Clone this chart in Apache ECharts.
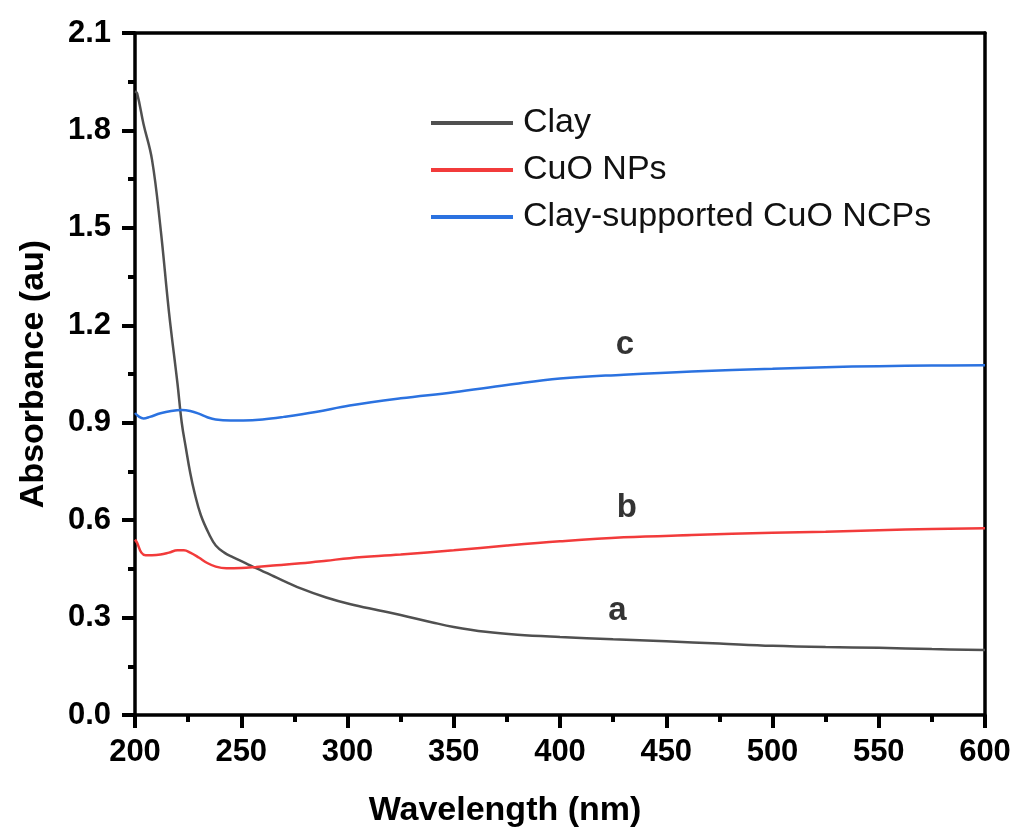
<!DOCTYPE html>
<html>
<head>
<meta charset="utf-8">
<script src="https://cdn.jsdelivr.net/npm/echarts@6/dist/echarts.min.js"></script>
<style>
html, body { margin: 0; padding: 0; background: #fff; }
#chart { width: 1014px; height: 835px; }
</style>
</head>
<body>
<div id="chart"></div>
<script>
// wavelength (nm), absorbance (au)
var clay = [
    [200, 1.92], [201, 1.914], [204, 1.82], [208, 1.71], [212, 1.50], [216, 1.24],
    [220, 1.02], [222, 0.90], [224, 0.82], [226, 0.745], [228, 0.685], [231, 0.615],
    [235, 0.555], [238, 0.522], [242, 0.50], [246, 0.486], [252, 0.468], [257, 0.452],
    [265, 0.428], [278, 0.39], [290, 0.362], [301, 0.342], [315, 0.322], [325, 0.308],
    [340, 0.285], [350, 0.271], [365, 0.256], [380, 0.247], [400, 0.240], [425, 0.233],
    [450, 0.227], [475, 0.220], [500, 0.213], [525, 0.209], [550, 0.207], [575, 0.203],
    [600, 0.200]
];
var cuo = [
    [200, 0.54], [201, 0.53], [203, 0.50], [205, 0.492], [208, 0.492], [212, 0.494],
    [216, 0.50], [220, 0.507], [223, 0.507], [226, 0.50], [230, 0.485], [234, 0.468],
    [238, 0.457], [243, 0.452], [250, 0.453], [257, 0.456], [265, 0.46], [278, 0.467],
    [290, 0.475], [301, 0.483], [325, 0.494], [350, 0.507], [375, 0.522], [400, 0.535],
    [430, 0.547], [462, 0.554], [500, 0.561], [525, 0.564], [550, 0.569], [575, 0.573],
    [600, 0.575]
];
var clayCuo = [
    [200, 0.93], [202, 0.918], [204, 0.913], [207, 0.918], [212, 0.929], [217, 0.936],
    [222, 0.939], [226, 0.936], [230, 0.928], [234, 0.917], [238, 0.91], [245, 0.907],
    [251, 0.907], [260, 0.91], [270, 0.918], [285, 0.933], [301, 0.953], [325, 0.975],
    [350, 0.994], [375, 1.016], [400, 1.036], [430, 1.048], [462, 1.058], [500, 1.066],
    [525, 1.071], [550, 1.074], [575, 1.076], [600, 1.077]
];
var curveTags = [
    [427, 0.320, 'a'],
    [431.5, 0.637, 'b'],
    [430.6, 1.139, 'c']
];
var names = ['Clay', 'CuO NPs', 'Clay-supported CuO NCPs'];
var colors = ['#505050', '#f23b3b', '#2b72e0'];

var arial = '"Liberation Sans", Arial, sans-serif';

function lineSeries(name, data, color) {
    return {
        name: name,
        type: 'line',
        data: data,
        showSymbol: false,
        symbol: 'none',
        smooth: 0.4,
        lineStyle: { color: color, width: 2.5 },
        itemStyle: { color: color }
    };
}

var chart = echarts.init(document.getElementById('chart'));
chart.setOption({
    animation: false,
    backgroundColor: '#fff',
    grid: { left: 135, right: 29, top: 33, bottom: 120 },
    legend: {
        orient: 'vertical',
        left: 431,
        top: 106,
        padding: 0,
        itemWidth: 82,
        itemHeight: 4,
        itemGap: 13,
        data: names.map(function (n, i) {
            return { name: n, icon: 'rect', itemStyle: { color: colors[i] } };
        }),
        textStyle: { fontFamily: arial, fontSize: 34, lineHeight: 34, color: '#111', padding: [0, 0, 0, 5] }
    },
    xAxis: [{
        type: 'value',
        min: 200, max: 600, interval: 50,
        name: 'Wavelength (nm)',
        nameLocation: 'middle',
        nameGap: 79,
        nameTextStyle: { fontFamily: arial, fontWeight: 'bold', fontSize: 34, color: '#000', padding: [0, 110, 0, 0] },
        axisLine: { show: true, onZero: false, lineStyle: { color: '#000', width: 3.5 } },
        axisTick: { show: true, inside: false, length: 13, lineStyle: { width: 4, color: '#000' } },
        minorTick: { show: true, splitNumber: 2, length: 7, lineStyle: { width: 4, color: '#000' } },
        splitLine: { show: false },
        axisLabel: { margin: 22, fontFamily: arial, fontWeight: 'bold', fontSize: 31, color: '#000' }
    }, {
        type: 'value', position: 'top',
        min: 200, max: 600,
        axisLine: { show: true, onZero: false, lineStyle: { color: '#000', width: 3.5 } },
        axisTick: { show: false }, axisLabel: { show: false }, splitLine: { show: false }
    }],
    yAxis: [{
        type: 'value',
        min: 0, max: 2.1, interval: 0.3,
        name: 'Absorbance (au)',
        nameLocation: 'middle',
        nameGap: 84,
        nameTextStyle: { fontFamily: arial, fontWeight: 'bold', fontSize: 34, color: '#000' },
        axisLine: { show: true, onZero: false, lineStyle: { color: '#000', width: 3.5 } },
        axisTick: { show: true, inside: false, length: 13, lineStyle: { width: 4, color: '#000' } },
        minorTick: { show: true, splitNumber: 2, length: 7, lineStyle: { width: 4, color: '#000' } },
        splitLine: { show: false },
        axisLabel: {
            margin: 24, fontFamily: arial, fontWeight: 'bold', fontSize: 31, color: '#000',
            formatter: function (v) { return v.toFixed(1); }
        }
    }, {
        type: 'value', position: 'right',
        min: 0, max: 2.1,
        axisLine: { show: true, onZero: false, lineStyle: { color: '#000', width: 3.5 } },
        axisTick: { show: false }, axisLabel: { show: false }, splitLine: { show: false }
    }],
    series: [
        lineSeries(names[0], clay, colors[0]),
        lineSeries(names[1], cuo, colors[1]),
        lineSeries(names[2], clayCuo, colors[2]),
        {
            type: 'scatter',
            symbolSize: 0,
            silent: true,
            data: curveTags.map(function (t) { return { value: [t[0], t[1]], name: t[2] }; }),
            label: {
                show: true,
                position: 'inside',
                formatter: function (p) { return p.name; },
                fontFamily: arial, fontWeight: 'bold', fontSize: 33, color: '#000'
            }
        }
    ]
});
</script>
</body>
</html>
